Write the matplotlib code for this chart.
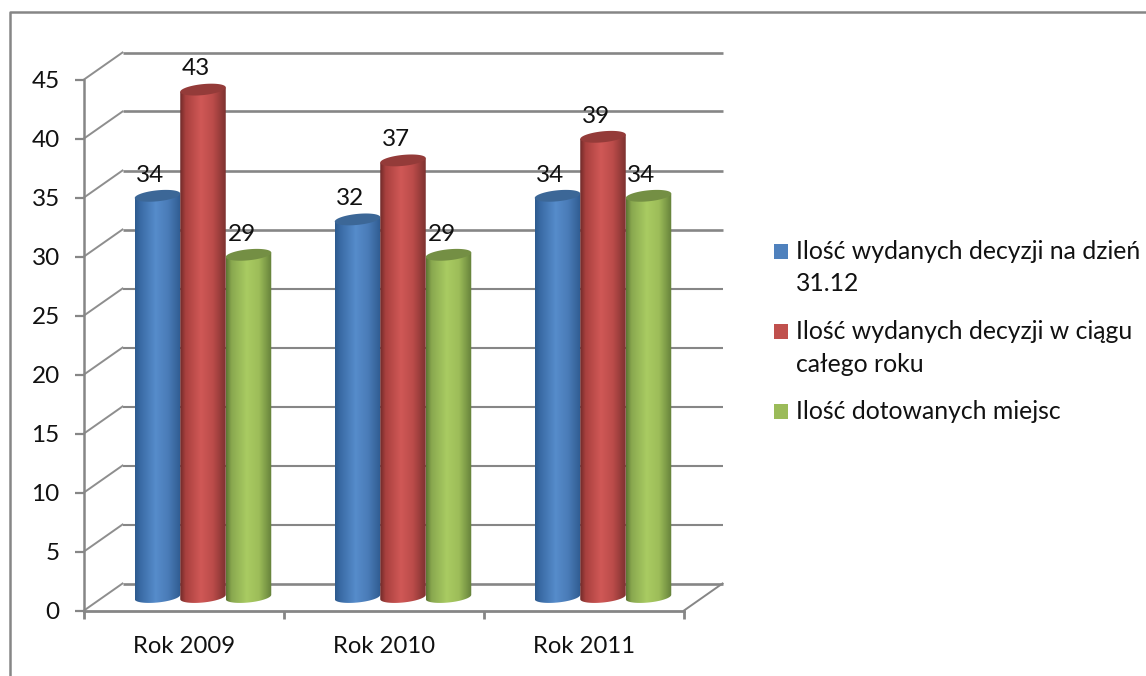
import numpy as np
import matplotlib
matplotlib.use("Agg")
import matplotlib.pyplot as plt
from matplotlib.colors import LinearSegmentedColormap
from matplotlib.lines import Line2D
from matplotlib.patches import Polygon, Rectangle

categories = ["Rok 2009", "Rok 2010", "Rok 2011"]
series_names = ["Ilość wydanych decyzji na dzień\n31.12",
                "Ilość wydanych decyzji w ciągu\ncałego roku",
                "Ilość dotowanych miejsc"]
series_colors = ["#4f81bd", "#c0504d", "#9bbb59"]
decyzje_31_12 = [34, 32, 34]
decyzje_rok = [43, 37, 39]
dotowane = [29, 29, 34]
y_ticks = [0, 5, 10, 15, 20, 25, 30, 35, 40, 45]

W, H = 1146, 676
plt.rcParams["font.family"] = ["Lato", "DejaVu Sans"]
GRID = "#868686"
TXT = "#111111"

fig = plt.figure(figsize=(W / 100, H / 100), dpi=100, facecolor="white")
L, R, B, T = 84, 684, 610.5, 79.5
ax = fig.add_axes([L / W, 1 - B / H, (R - L) / W, (B - T) / H])
ax.patch.set_alpha(0)

px_x = 3 / (R - L)
px_y = 45 / (B - T)
DX, DY = 38.5 * px_x, 27 * px_y          # depth of the 3D box
MX, MY = 19 * px_x, 13.5 * px_y          # bars stand mid-depth
BW = 45.5 * px_x                         # cylinder width
CAP_B, CAP_S = 5.5 * px_y, 2.2 * px_y    # cap half height, skew

# walls
for v in y_ticks:
    lw = 1.9 if v >= 30 or v == 0 else 1.5
    ax.plot([DX, 3 + DX], [v + DY, v + DY], color=GRID, lw=lw, clip_on=False, zorder=1,
            solid_capstyle="butt")
    ax.plot([0, DX], [v, v + DY], color="#8e8e8e", lw=1.4, clip_on=False, zorder=1)
ax.plot([3, 3 + DX], [0, DY], color=GRID, lw=1.4, clip_on=False, zorder=1)

t_body = np.linspace(np.pi, 2 * np.pi, 40)
t_cap = np.linspace(0, 2 * np.pi, 80)
palettes = [("#2d5a8e", "#3a6ba5", "#568ccb", "#4a7cb8", "#2f5b90", "#3c6797"),
            ("#6f2a29", "#a8403e", "#d05856", "#bb4c4a", "#7d3230", "#943b39"),
            ("#5d7533", "#89a84f", "#a9cb62", "#9dbd59", "#64803a", "#748f44")]
stops = [0, 0.12, 0.45, 0.72, 1]
series = [decyzje_31_12, decyzje_rok, dotowane]

for s, values in enumerate(series):
    pal = palettes[s]
    cmap = LinearSegmentedColormap.from_list("c", list(zip(stops, pal[:5])))
    for i, v in enumerate(values):
        cx = i + 0.5 + MX + (s - 1) * 45.5 * px_x
        base, top = MY, v + MY
        bx = cx + BW / 2 * np.cos(t_body)
        by = base + CAP_B * np.sin(t_body) + CAP_S * np.cos(t_body)
        outline = np.vstack([np.column_stack([bx, by]),
                             [[cx + BW / 2, top + CAP_S], [cx - BW / 2, top - CAP_S]]])
        clip = Polygon(outline, closed=True, transform=ax.transData, fc="none", ec="none")
        ax.add_patch(clip)
        im = ax.imshow(np.linspace(0, 1, 128)[None, :], cmap=cmap, aspect="auto",
                       extent=[cx - BW / 2, cx + BW / 2, 0, top + 1], zorder=3 + s * 0.1,
                       interpolation="bilinear")
        im.set_clip_path(clip)
        capx = cx + BW / 2 * np.cos(t_cap)
        capy = top + CAP_B * np.sin(t_cap) + CAP_S * np.cos(t_cap)
        ax.add_patch(Polygon(np.column_stack([capx, capy]), closed=True, fc=pal[5], ec="none",
                             zorder=3.05 + s * 0.1, clip_on=False))
        ax.text(cx - 7 * px_x, v + 2.9, str(v), ha="center", va="center", fontsize=17.5,
                color=TXT, zorder=5, clip_on=False)

ax.set_xlim(0, 3)
ax.set_ylim(0, 45)

for side in ("top", "right"):
    ax.spines[side].set_visible(False)
ax.spines["left"].set_color(GRID)
ax.spines["left"].set_linewidth(1.8)
ax.spines["bottom"].set_color(GRID)
ax.spines["bottom"].set_linewidth(2.0)
ax.set_xticks([0, 1, 2, 3])
ax.set_xticks([0.5, 1.5, 2.5], minor=True)
ax.set_xticklabels([])
ax.set_xticklabels(categories, minor=True, fontsize=17.2, color=TXT)
ax.tick_params(axis="x", which="major", length=5.5, width=2, color=GRID)
ax.tick_params(axis="x", which="minor", length=0, pad=18.5)
ax.set_yticks(y_ticks)
ax.set_yticklabels([str(v) for v in y_ticks], fontsize=17.5, color=TXT)
ax.tick_params(axis="y", length=6.5, width=1.6, color=GRID, pad=11)

# legend, with each key aligned to the first line of its entry
entry_baselines = [259, 339, 419]
LINE_STEP = 32.5
for name, color, base_y in zip(series_names, series_colors, entry_baselines):
    fig.add_artist(Rectangle((774 / W, 1 - base_y / H), 14 / W, 15 / H, fc=color, ec="none",
                             transform=fig.transFigure))
    for k, line in enumerate(name.split("\n")):
        fig.text(796 / W, 1 - (base_y + k * LINE_STEP) / H, line, fontsize=17.8, color=TXT,
                 ha="left", va="baseline")

fig.add_artist(Line2D([9.5 / W, 9.5 / W, 1], [0, 1 - 12 / H, 1 - 12 / H], color=GRID, lw=1.8,
                      transform=fig.transFigure))

fig.savefig("out.png", dpi=100)
